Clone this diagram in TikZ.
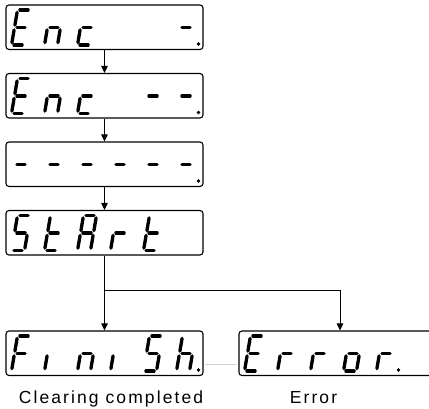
\documentclass[tikz,border=0pt]{standalone}
\usepackage{fontspec}
\newfontfamily\lblfont[LetterSpace=12]{Liberation Sans}
\usetikzlibrary{arrows.meta,calc}
\tikzset{
  segline/.style={line width=3.3pt, line cap=round, shorten <=2.4pt, shorten >=2.4pt},
  seg/a/.code={\draw[segline] (6,-35) -- (19,-35);},
  seg/b/.code={\draw[segline] (19,-35) -- (16,-17.5);},
  seg/c/.code={\draw[segline] (16,-17.5) -- (13,0);},
  seg/d/.code={\draw[segline] (0,0) -- (13,0);},
  seg/e/.code={\draw[segline] (3,-17.5) -- (0,0);},
  seg/f/.code={\draw[segline] (6,-35) -- (3,-17.5);},
  seg/g/.code={\draw[segline] (3,-17.5) -- (16,-17.5);},
  dispbox/.style={draw, line width=1.1pt, rounded corners=3pt, minimum height=44.5pt, inner sep=0pt, text opacity=0},
  arr/.style={line width=1pt, -{Triangle[length=7pt,width=6.5pt]}},
  faint/.style={line width=0.5pt, draw=black!18},
  lbl/.style={font=\lblfont\fontsize{17.5}{20}\selectfont, inner sep=0pt, anchor=base}
}
\newcommand\dispdigit[4]{%
  \begin{scope}[shift={({#1+5.5+33*#3},{#2+40})}]
    \foreach \s in {#4} {\edef\segtmp{\noexpand\tikzset{seg/\s}}\segtmp}
  \end{scope}}
\newcommand\dispdot[3]{\fill ({#1+6+33*#3+21.5},{#2+39}) circle (1.8pt);}
\begin{document}
\begin{tikzpicture}[x=1pt,y=-1pt]
\useasboundingbox (0,0) rectangle (429,409);
% boxes
\node[dispbox, minimum width=197pt] (b1) at (104.5,27.25) {Enc -.};
\node[dispbox, minimum width=197pt] (b2) at (104.5,95.75) {Enc --.};
\node[dispbox, minimum width=197pt] (b3) at (104.5,164.25) {------.};
\node[dispbox, minimum width=197pt] (b4) at (104.5,232.75) {StArt};
\node[dispbox, minimum width=197pt] (b5) at (104.5,353.25) {FiniSh.};
\node[dispbox, minimum width=202pt] (b6) at (340,353.25) {Error.};
% box 1
\dispdigit{6}{5}{0}{a,d,e,f,g}
\dispdigit{6}{5}{1}{c,e,g}
\dispdigit{6}{5}{2}{d,e,g}
\dispdigit{6}{5}{5}{g}
\dispdot{6}{5}{5}
% box 2
\dispdigit{6}{73.5}{0}{a,d,e,f,g}
\dispdigit{6}{73.5}{1}{c,e,g}
\dispdigit{6}{73.5}{2}{d,e,g}
\dispdigit{6}{73.5}{4}{g}
\dispdigit{6}{73.5}{5}{g}
\dispdot{6}{73.5}{5}
% box 3
\foreach \i in {0,...,5} {\dispdigit{6}{142}{\i}{g}}
\dispdot{6}{142}{5}
% box 4
\dispdigit{6}{210.5}{0}{a,c,d,f,g}
\dispdigit{6}{210.5}{1}{d,e,f,g}
\dispdigit{6}{210.5}{2}{a,b,c,e,f,g}
\dispdigit{6}{210.5}{3}{e,g}
\dispdigit{6}{210.5}{4}{d,e,f,g}
% box 5
\dispdigit{6}{331}{0}{a,e,f,g}
\dispdigit{6}{331}{1}{e}
\dispdigit{6}{331}{2}{c,e,g}
\dispdigit{6}{331}{3}{e}
\dispdigit{6}{331}{4}{a,c,d,f,g}
\dispdigit{6}{331}{5}{c,e,f,g}
\dispdot{6}{331}{5}
% box 6
\dispdigit{239}{331}{0}{a,d,e,f,g}
\dispdigit{239}{331}{1}{e,g}
\dispdigit{239}{331}{2}{e,g}
\dispdigit{239}{331}{3}{c,d,e,g}
\dispdigit{239}{331}{4}{e,g}
\dispdot{239}{331}{4}
% connectors
\draw[arr] (b1.south) -- (b2.north);
\draw[arr] (b2.south) -- (b3.north);
\draw[arr] (b3.south) -- (b4.north);
\draw[arr] (b4.south) -- (b5.north);
\coordinate (br) at (104.5,291);
\draw[arr] (br) -| (b6.north);
\draw[faint] ($(b5.south east)+(1,-11.5)$) -- ($(b6.south west)+(-2,-11.5)$);
% labels
\node[lbl] (l1) at (111,403) {Clearing completed};
\node[lbl] (l2) at (313.5,403) {Error};
\end{tikzpicture}
\end{document}
